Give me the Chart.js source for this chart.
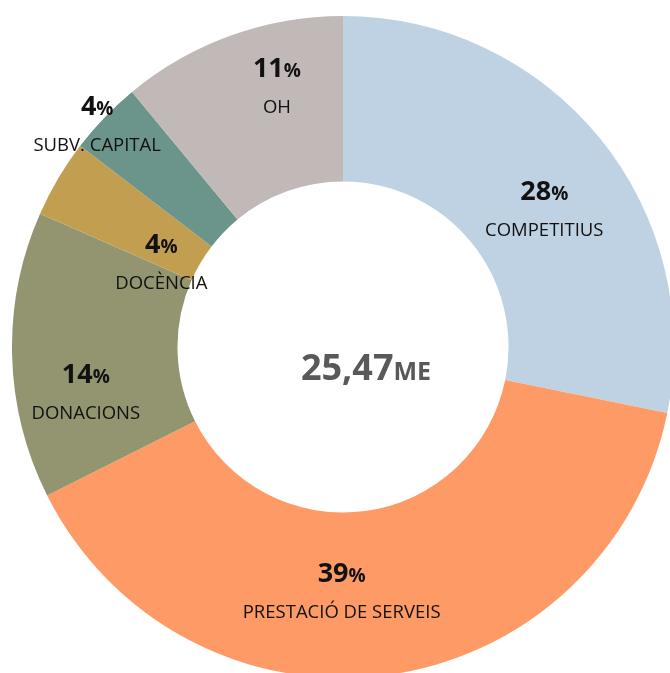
<!DOCTYPE html>
<html lang="ca">
<head>
    <meta charset="UTF-8">
    <title>Ingressos 25,47ME</title>
    <script src="https://cdn.jsdelivr.net/npm/chart.js"></script>
    <style>
        html, body {
            margin: 0;
            padding: 0;
            width: 670px;
            height: 673px;
            overflow: hidden;
            background: #ffffff;
        }
        #donut {
            position: absolute;
            left: 12px;
            top: 16px;
        }
    </style>
</head>
<body>
    <canvas id="donut" width="662" height="662"></canvas>

    <script>
        // Dades del gràfic (percentatge de cada font d'ingressos)
        const categories = ["COMPETITIUS", "PRESTACIÓ DE SERVEIS", "DONACIONS", "DOCÈNCIA", "SUBV. CAPITAL", "OH"];
        const shares = [28.2, 39.4, 14.0, 3.8, 3.6, 11.0];
        const totalValue = "25,47";
        const totalUnit = "ME";

        const colors = ["#bfd2e4", "#fe9a66", "#92956f", "#c29e51", "#6b948b", "#c0b9b8"];

        // Desplaçament de cada etiqueta respecte al centre de l'arc
        const labelShift = [[9, 10], [-34, -11], [-9, 30], [32, 32], [-67, -60], [18, -36]];

        const FONT = "'Open Sans', sans-serif";

        // Etiquetes de percentatge i nom
        const sliceLabels = {
            id: "sliceLabels",
            afterDatasetsDraw(chart) {
                const ctx = chart.ctx;
                const arcs = chart.getDatasetMeta(0).data;
                ctx.save();
                ctx.fillStyle = "#111111";
                ctx.textBaseline = "alphabetic";
                arcs.forEach((arc, i) => {
                    const p = arc.getCenterPoint();
                    const x = p.x + labelShift[i][0];
                    const y = p.y + labelShift[i][1];

                    const num = String(Math.round(shares[i]));
                    ctx.font = "bold 27px " + FONT;
                    const wNum = ctx.measureText(num).width;
                    ctx.font = "bold 19px " + FONT;
                    const wPct = ctx.measureText("%").width;
                    let left = x - (wNum + wPct) / 2;
                    ctx.textAlign = "left";
                    ctx.font = "bold 27px " + FONT;
                    ctx.fillText(num, left, y);
                    ctx.font = "bold 19px " + FONT;
                    ctx.fillText("%", left + wNum, y);

                    ctx.textAlign = "center";
                    ctx.font = "18.5px " + FONT;
                    ctx.fillText(categories[i], x, y + 36);
                });

                // Total al centre
                const c = arcs[0];
                const cx = c.x + 23;
                const cy = c.y + 33;
                ctx.fillStyle = "#595959";
                ctx.font = "bold 36px " + FONT;
                const wVal = ctx.measureText(totalValue).width;
                ctx.font = "bold 25px " + FONT;
                const wUnit = ctx.measureText(totalUnit).width;
                const start = cx - (wVal + wUnit) / 2;
                ctx.textAlign = "left";
                ctx.font = "bold 36px " + FONT;
                ctx.fillText(totalValue, start, cy);
                ctx.font = "bold 25px " + FONT;
                ctx.fillText(totalUnit, start + wVal, cy);
                ctx.restore();
            }
        };

        new Chart(document.getElementById("donut"), {
            type: "doughnut",
            data: {
                labels: categories,
                datasets: [{
                    data: shares,
                    backgroundColor: colors,
                    borderWidth: 0,
                    hoverOffset: 0,
                    offset: 0
                }]
            },
            options: {
                responsive: false,
                animation: false,
                cutout: "50%",
                layout: { padding: 0 },
                plugins: {
                    legend: { display: false },
                    tooltip: { enabled: false }
                }
            },
            plugins: [sliceLabels]
        });
    </script>
</body>
</html>
